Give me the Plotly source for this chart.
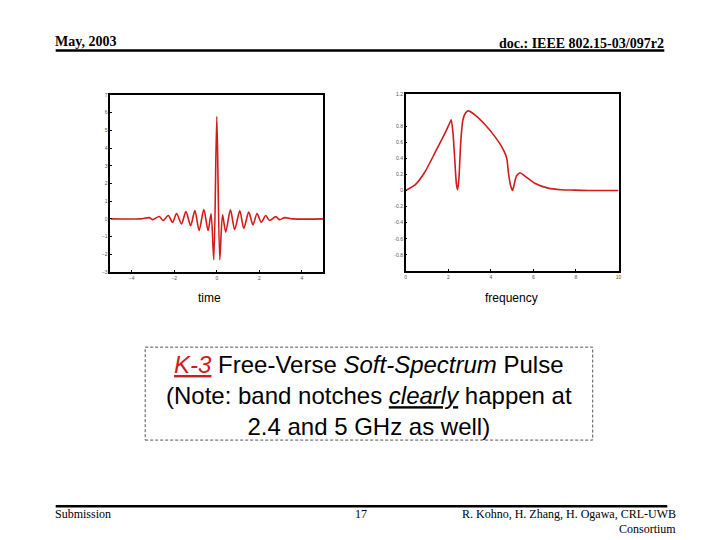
import plotly.graph_objects as go

# ---- data ----
time_t = [-5.0, -3.6, -3.17, -3.02, -2.7, -2.52, -2.28, -2.08, -1.89, -1.66, -1.45, -1.23,
          -1.03, -0.83, -0.61, -0.41, -0.27, -0.14, 0.0, 0.14, 0.27, 0.42, 0.64, 0.84,
          1.08, 1.27, 1.5, 1.7, 1.89, 2.09, 2.3, 2.48, 2.77, 2.95, 3.19, 3.58, 5.0]
time_v = [0.0, 0.0, 0.07, -0.04, 0.13, -0.09, 0.19, -0.19, 0.3, -0.28, 0.41, -0.38,
          0.47, -0.66, 0.53, -0.66, 0.28, -2.31, 5.79, -2.31, 0.23, -0.75, 0.51, -0.6,
          0.45, -0.53, 0.38, -0.34, 0.3, -0.19, 0.19, -0.09, 0.13, -0.04, 0.07, 0.0, 0.0]

freq_f = [0.0, 0.44, 0.9, 1.375, 1.84, 2.05, 2.14, 2.22, 2.3, 2.38, 2.44, 2.5, 2.58, 2.68,
          2.8, 2.94, 3.25, 3.72, 4.19, 4.5, 4.7, 4.76, 4.84, 4.94, 5.02, 5.1, 5.2,
          5.36, 5.6, 6.06, 6.69, 7.31, 7.94, 8.56, 10.0]
freq_v = [0.0, 0.07, 0.23, 0.47, 0.71, 0.83, 0.88, 0.72, 0.4, 0.08, 0.01, 0.15, 0.58, 0.87,
          0.96, 0.99, 0.94, 0.82, 0.67, 0.55, 0.44, 0.38, 0.19, 0.05, 0.0, 0.08, 0.18,
          0.22, 0.18, 0.09, 0.03, 0.01, 0.005, 0.0, 0.0]

time_ticks_x = [-4, -2, 0, 2, 4]
time_ticks_y = [-3, -2, -1, 0, 1, 2, 3, 4, 5, 6, 7]
freq_ticks_x = [0, 2, 4, 6, 8, 10]
freq_ticks_y = [-0.8, -0.6, -0.4, -0.2, 0, 0.2, 0.4, 0.6, 0.8, 1.2]
freq_tick_text = ["-0.8", "-0.6", "-0.4", "-0.2", "0", "0.2", "0.4", "0.6", "0.8", "1.2"]

RED = "#d41a1a"
W, H = 720, 540

fig = go.Figure()
fig.add_trace(go.Scatter(x=time_t, y=time_v, mode="lines", xaxis="x", yaxis="y",
                         line=dict(color=RED, width=1.6, shape="spline", smoothing=0.8),
                         showlegend=False, hoverinfo="skip"))
fig.add_trace(go.Scatter(x=freq_f, y=freq_v, mode="lines", xaxis="x2", yaxis="y2",
                         line=dict(color=RED, width=1.6, shape="spline", smoothing=0.5),
                         showlegend=False, hoverinfo="skip"))

axis_common = dict(showgrid=False, zeroline=False, showline=True, linecolor="black",
                   linewidth=1.5, mirror=True, ticks="inside", ticklen=2, tickcolor="black",
                   tickfont=dict(size=5, color="#555555", family="Liberation Sans"))

fig.update_layout(
    width=W, height=H, autosize=False,
    margin=dict(l=0, r=0, t=0, b=0),
    paper_bgcolor="white", plot_bgcolor="white",
    xaxis=dict(domain=[110 / W, 324 / W], range=[-5, 5], tickvals=time_ticks_x,
               anchor="y", **axis_common),
    yaxis=dict(domain=[1 - 272 / H, 1 - 93 / H], range=[-3, 7], tickvals=time_ticks_y,
               anchor="x", **axis_common),
    xaxis2=dict(domain=[407 / W, 621 / W], range=[0, 10], tickvals=freq_ticks_x,
                anchor="y2", **axis_common),
    yaxis2=dict(domain=[1 - 271 / H, 1 - 92 / H], range=[-1, 1.2], tickvals=freq_ticks_y,
                ticktext=freq_tick_text, anchor="x2", **axis_common),
)

serif = "Liberation Serif"
sans = "Liberation Sans"

def px(x):
    return x / W

def py(y):
    return 1 - y / H

ann = []
ann.append(dict(x=px(52), y=py(39), text="<b>May, 2003</b>", xanchor="left", yanchor="middle",
                font=dict(family=serif, size=14, color="black")))
ann.append(dict(x=px(669), y=py(41), text="<b>doc.: IEEE 802.15-03/097r2</b>", xanchor="right",
                yanchor="middle", font=dict(family=serif, size=14, color="black")))
ann.append(dict(x=px(210), y=py(298), text="time", xanchor="center", yanchor="middle",
                font=dict(family=sans, size=12, color="black")))
ann.append(dict(x=px(513), y=py(298), text="frequency", xanchor="center", yanchor="middle",
                font=dict(family=sans, size=12, color="black")))
box_text = ("<span style='color:#cc1f1f'><i><u>K-3</u></i></span> Free-Verse <i>Soft-Spectrum</i> Pulse<br>"
            "(Note: band notches <i><u>clearly</u></i> happen at<br>"
            "2.4 and 5 GHz as well)")
ann.append(dict(x=px(370), y=py(397), text=box_text, xanchor="center", yanchor="middle",
                align="center", font=dict(family=sans, size=24, color="black")))
ann.append(dict(x=px(52), y=py(517), text="Submission", xanchor="left", yanchor="middle",
                font=dict(family=serif, size=12, color="black")))
ann.append(dict(x=px(362), y=py(517), text="17", xanchor="center", yanchor="middle",
                font=dict(family=serif, size=12, color="black")))
ann.append(dict(x=px(681), y=py(517), text="R. Kohno, H. Zhang, H. Ogawa, CRL-UWB", xanchor="right",
                yanchor="middle", font=dict(family=serif, size=12, color="black")))
ann.append(dict(x=px(681), y=py(532), text="Consortium", xanchor="right", yanchor="middle",
                font=dict(family=serif, size=12, color="black")))
for a in ann:
    a.update(xref="paper", yref="paper", showarrow=False)
fig.update_layout(annotations=ann)

fig.update_layout(shapes=[
    dict(type="line", xref="paper", yref="paper", x0=px(55), x1=px(667), y0=py(48), y1=py(48),
         line=dict(color="black", width=2.5)),
    dict(type="line", xref="paper", yref="paper", x0=px(55), x1=px(670), y0=py(509), y1=py(509),
         line=dict(color="black", width=2.5)),
    dict(type="rect", xref="paper", yref="paper", x0=px(145), x1=px(595), y0=py(442), y1=py(348),
         line=dict(color="#555555", width=1, dash="3px,2px")),
])

fig.write_html("out.html", config={"displayModeBar": False},
               post_script="document.body.style.margin='0';")
